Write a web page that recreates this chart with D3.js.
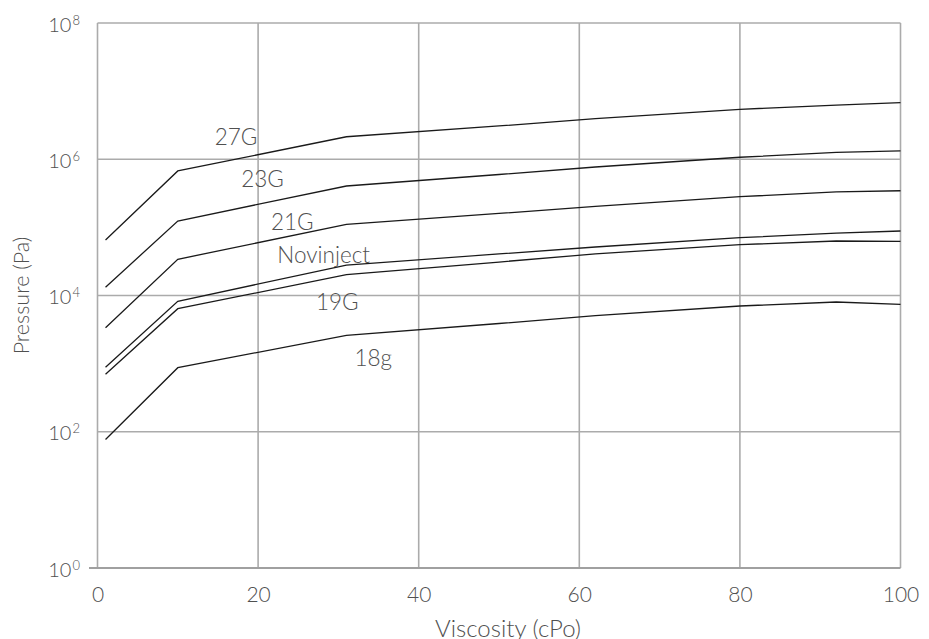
<!DOCTYPE html>
<html>
<head>
<meta charset="utf-8">
<script src="https://cdn.jsdelivr.net/npm/d3@7"></script>
<style>
  html, body { margin: 0; padding: 0; background: #fff; }
  svg { display: block; }
  text { font-family: Lato, "Open Sans", sans-serif; fill: #505050; font-weight: 300; }
</style>
</head>
<body>
<svg id="chart" width="929" height="639"></svg>
<script>
// ---- data ----
const viscosity = [1, 10, 31, 50, 62, 80, 92, 100];
const seriesNames = ["27G", "23G", "21G", "Novinject", "19G", "18g"];
const p27G      = [65300, 673000, 2140000, 3080000, 3950000, 5410000, 6250000, 6760000];
const p23G      = [13200, 124000, 405000, 597000, 769000, 1070000, 1260000, 1330000];
const p21G      = [3370, 34000, 111000, 160000, 204000, 282000, 331000, 345000];
const pNovinject= [883, 8220, 28000, 40700, 51500, 70500, 82600, 88500];
const p19G      = [697, 6400, 20200, 31000, 40700, 55700, 63100, 62500];
const p18g      = [77, 871, 2600, 3880, 5050, 7010, 8030, 7430];
const seriesValues = [p27G, p23G, p21G, pNovinject, p19G, p18g];
const xTicks = [0, 20, 40, 60, 80, 100];
const yTickExps = [0, 2, 4, 6, 8];
const xTitle = "Viscosity (cPo)";
const yTitle = "Pressure (Pa)";

// label anchors (viscosity, pressure) for series annotations
const labelAnchors = [
  [14.6, 1.62e6],
  [17.9, 3.9e5],
  [21.6, 9.3e4],
  [22.4, 3.0e4],
  [27.2, 6.2e3],
  [32.0, 9.3e2]
];

// ---- layout ----
const svg = d3.select("#chart");
const mLeft = 97.5, mRight = 900.5, mTop = 23, mBottom = 568;

const x = d3.scaleLinear().domain([0, 100]).range([mLeft, mRight]);
const y = d3.scaleLog().domain([1, 1e8]).range([mBottom, mTop]);

const gridColor = "#ababab";

// horizontal gridlines
svg.append("g").selectAll("line")
  .data(yTickExps.filter(e => e > 0))
  .join("line")
  .attr("x1", mLeft).attr("x2", mRight)
  .attr("y1", d => y(Math.pow(10, d))).attr("y2", d => y(Math.pow(10, d)))
  .attr("stroke", gridColor).attr("stroke-width", 1.6);

// vertical gridlines
svg.append("g").selectAll("line")
  .data(xTicks)
  .join("line")
  .attr("x1", d => x(d)).attr("x2", d => x(d))
  .attr("y1", mTop).attr("y2", mBottom)
  .attr("stroke", gridColor).attr("stroke-width", 1.6);

// bottom axis line (extends a bit left)
svg.append("line")
  .attr("x1", mLeft - 8.5).attr("x2", mRight)
  .attr("y1", mBottom).attr("y2", mBottom)
  .attr("stroke", "#a0a0a0").attr("stroke-width", 1.8);

// x axis labels
const xAxis = d3.axisBottom(x).tickValues(xTicks).tickSize(0).tickPadding(0);
const gx = svg.append("g").attr("transform", `translate(0,${mBottom})`).call(xAxis);
gx.select(".domain").remove();
gx.selectAll("text")
  .attr("dy", null).attr("y", 34)
  .style("font-size", "21px").style("fill", "#505050")
  .style("font-weight", "300")
  .style("font-family", "Lato, 'Open Sans', sans-serif");

// y axis labels with superscripts
const yAxisG = svg.append("g");
yTickExps.forEach(e => {
  const t = yAxisG.append("text")
    .attr("x", 80).attr("y", y(Math.pow(10, e)) + 8.5)
    .attr("text-anchor", "end")
    .style("font-size", "20px");
  t.append("tspan").text("10");
  t.append("tspan").attr("dy", -7).attr("dx", 1).style("font-size", "13px").text(String(e));
});

// lines
const line = d3.line()
  .x((d, i) => x(viscosity[i]))
  .y(d => y(d));

svg.append("g").selectAll("path")
  .data(seriesValues)
  .join("path")
  .attr("d", d => line(d))
  .attr("fill", "none")
  .attr("stroke", "#1a1a1a")
  .attr("stroke-width", 1.3);

// series labels
svg.append("g").selectAll("text")
  .data(seriesNames)
  .join("text")
  .attr("x", (d, i) => x(labelAnchors[i][0]))
  .attr("y", (d, i) => y(labelAnchors[i][1]))
  .style("font-size", "22.5px")
  .text(d => d);

// axis titles
svg.append("text")
  .attr("x", 508).attr("y", 637)
  .attr("text-anchor", "middle")
  .style("font-size", "24px")
  .text(xTitle);

svg.append("text")
  .attr("transform", `translate(29,${(mTop + mBottom) / 2}) rotate(-90)`)
  .attr("text-anchor", "middle")
  .style("font-size", "21.5px")
  .text(yTitle);
</script>
</body>
</html>
